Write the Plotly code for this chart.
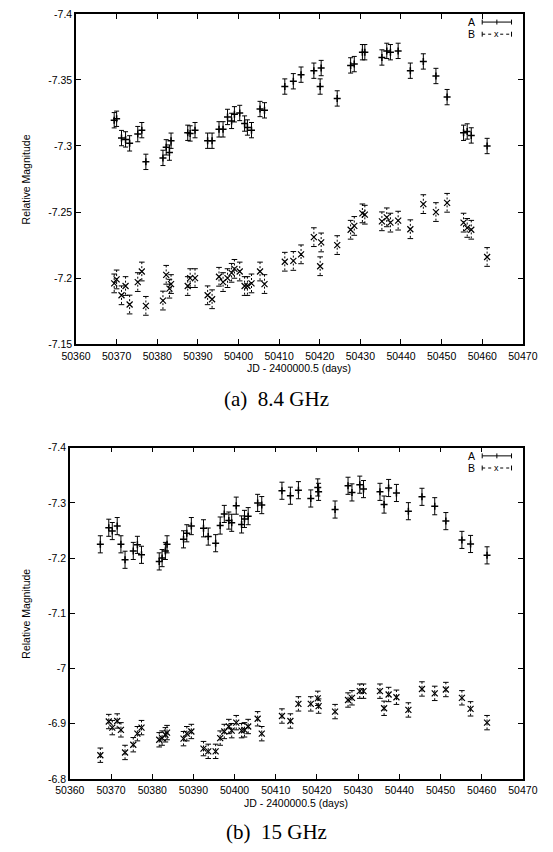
import plotly.graph_objects as go

# ---------------- data ----------------
jd_top = [50369.4, 50370.0, 50371.2, 50372.2, 50373.2, 50375.2, 50376.2, 50377.2, 50381.4, 50382.2,
          50383.0, 50383.4, 50387.5, 50388.1, 50389.3, 50392.4, 50393.5, 50395.2, 50396.2, 50397.3,
          50398.3, 50399.0, 50400.3, 50401.5, 50402.2, 50403.2, 50405.3, 50406.4, 50411.4, 50413.5,
          50415.4, 50418.55, 50420.35, 50420.1, 50424.3, 50427.6, 50428.5, 50430.5, 50431.1, 50435.3,
          50436.5, 50437.4, 50439.3, 50442.3, 50445.5, 50448.6, 50451.35, 50455.4, 50456.3, 50457.3,
          50461.2]
a_top = [-7.3195, -7.3206, -7.306, -7.305, -7.302, -7.309, -7.312, -7.288, -7.291, -7.299,
         -7.295, -7.304, -7.310, -7.3095, -7.312, -7.304, -7.304, -7.3126, -7.3126, -7.322,
         -7.319, -7.324, -7.325, -7.317, -7.314, -7.312, -7.328, -7.327, -7.345, -7.349,
         -7.354, -7.357, -7.359, -7.345, -7.336, -7.361, -7.362, -7.371, -7.371, -7.367,
         -7.372, -7.371, -7.372, -7.357, -7.364, -7.353, -7.337, -7.310, -7.311, -7.308,
         -7.300]
b_top = [-7.196, -7.199, -7.187, -7.194, -7.180, -7.197, -7.205, -7.179, -7.183, -7.2025,
         -7.192, -7.1955, -7.194, -7.200, -7.200, -7.187, -7.184, -7.201, -7.197, -7.200,
         -7.204, -7.207, -7.205, -7.194, -7.194, -7.196, -7.205, -7.1955, -7.2124, -7.213,
         -7.218, -7.231, -7.227, -7.209, -7.225, -7.2366, -7.2395, -7.249, -7.248, -7.243,
         -7.246, -7.242, -7.2435, -7.237, -7.256, -7.250, -7.257, -7.242, -7.238, -7.2366,
         -7.216]
err_a_top = 0.0058
err_b_top = 0.0071

jd_bot = [50367.4, 50369.45, 50370.3, 50371.5, 50372.4, 50373.4, 50375.4, 50376.4, 50377.4, 50381.7,
          50382.4, 50383.2, 50383.6, 50387.6, 50388.4, 50389.5, 50392.45, 50393.6, 50395.4, 50396.5,
          50397.5, 50398.6, 50399.3, 50400.4, 50401.7, 50402.4, 50403.3, 50405.6, 50406.6, 50411.5,
          50413.55, 50415.5, 50418.5, 50420.2, 50420.4, 50424.4, 50427.55, 50428.5, 50430.4, 50431.3,
          50435.3, 50436.3, 50437.4, 50439.3, 50442.2, 50445.5, 50448.6, 50451.3, 50455.2, 50457.3,
          50461.3]
a_bot = [-7.225, -7.255, -7.249, -7.258, -7.225, -7.197, -7.213, -7.224, -7.206, -7.194,
         -7.200, -7.213, -7.225, -7.234, -7.245, -7.258, -7.254, -7.239, -7.227, -7.259,
         -7.280, -7.268, -7.264, -7.295, -7.261, -7.271, -7.276, -7.300, -7.296, -7.322,
         -7.313, -7.323, -7.308, -7.328, -7.320, -7.288, -7.331, -7.319, -7.333, -7.325,
         -7.320, -7.297, -7.327, -7.318, -7.285, -7.311, -7.294, -7.267, -7.233, -7.2256,
         -7.205]
b_bot = [-6.843, -6.904, -6.893, -6.905, -6.889, -6.848, -6.862, -6.882, -6.893, -6.871,
         -6.874, -6.880, -6.884, -6.873, -6.882, -6.886, -6.855, -6.850, -6.850, -6.874,
         -6.886, -6.895, -6.8875, -6.902, -6.8875, -6.889, -6.895, -6.909, -6.882, -6.914,
         -6.905, -6.936, -6.936, -6.946, -6.932, -6.922, -6.943, -6.947, -6.959, -6.959,
         -6.959, -6.928, -6.953, -6.948, -6.925, -6.963, -6.955, -6.962, -6.947, -6.927,
         -6.902]
err_a_bot = 0.0155
err_b_bot = 0.013

x_ticks = list(range(50360, 50471, 10))
y_ticks_top = [-7.4, -7.35, -7.3, -7.25, -7.2, -7.15]
y_text_top = ["-7.4", "-7.35", "-7.3", "-7.25", "-7.2", "-7.15"]
y_ticks_bot = [-7.4, -7.3, -7.2, -7.1, -7.0, -6.9, -6.8]
y_text_bot = ["-7.4", "-7.3", "-7.2", "-7.1", "-7", "-6.9", "-6.8"]

series_names = ["A", "B"]
x_title = "JD - 2400000.5 (days)"
y_title = "Relative Magnitude"
subtitles = ["(a)  8.4 GHz", "(b)  15 GHz"]

# ---------------- figure ----------------
W, H = 553, 852
def px(x): return x / W
def py(y): return 1 - y / H

fig = go.Figure()

def add_series(jd, a, b, ea, eb, xa, ya):
    # A: solid error bars with + markers
    fig.add_trace(go.Scatter(
        x=jd, y=a, mode="markers", xaxis=xa, yaxis=ya, showlegend=False,
        marker=dict(symbol="cross-thin-open", size=5, color="black", line=dict(width=1.5, color="black")),
        error_y=dict(type="constant", value=ea, thickness=1, width=2.5, color="black")))
    # B: dashed error bars
    ex, ey = [], []
    for j, m in zip(jd, b):
        ex += [j, j, None]
        ey += [m - eb, m + eb, None]
    fig.add_trace(go.Scatter(
        x=ex, y=ey, mode="lines", xaxis=xa, yaxis=ya, showlegend=False,
        line=dict(color="black", width=1, dash="2px,2px"), hoverinfo="skip"))
    fig.add_trace(go.Scatter(
        x=jd + jd, y=[m - eb for m in b] + [m + eb for m in b], mode="markers",
        xaxis=xa, yaxis=ya, showlegend=False, hoverinfo="skip",
        marker=dict(symbol="line-ew-open", size=4, color="black", line=dict(width=1, color="black"))))
    fig.add_trace(go.Scatter(
        x=jd, y=b, mode="markers", xaxis=xa, yaxis=ya, showlegend=False,
        marker=dict(symbol="x-thin-open", size=6, color="black", line=dict(width=1.2, color="black"))))

add_series(jd_top, a_top, b_top, err_a_top, err_b_top, "x", "y")
add_series(jd_bot, a_bot, b_bot, err_a_bot, err_b_bot, "x2", "y2")

font = dict(family="Liberation Sans, Arial, sans-serif", size=10.5, color="black")
axis_common = dict(showline=True, linecolor="black", linewidth=1.5, mirror="ticks",
                   ticks="inside", ticklen=5, tickcolor="black", tickwidth=1,
                   showgrid=False, zeroline=False, tickfont=font)

top_l, bot_l, right = 64.5, 58.0, 537.0
top_t, top_b = 8.0, 343.0
bot_t, bot_b = 448.0, 784.0

fig.update_layout(
    width=W, height=H, margin=dict(l=0, r=0, t=0, b=0),
    paper_bgcolor="white", plot_bgcolor="white", showlegend=False,
    xaxis=dict(domain=[px(top_l), px(right)], anchor="y", range=[50360, 50470],
               tickvals=x_ticks, ticktext=[str(t) for t in x_ticks], ticklabelstandoff=1, **axis_common),
    yaxis=dict(domain=[py(top_b), py(top_t)], anchor="x", range=[-7.15, -7.4],
               tickvals=y_ticks_top, ticktext=y_text_top, **axis_common),
    xaxis2=dict(domain=[px(bot_l), px(right)], anchor="y2", range=[50360, 50470],
                tickvals=x_ticks, ticktext=[str(t) for t in x_ticks], ticklabelstandoff=1, **axis_common),
    yaxis2=dict(domain=[py(bot_b), py(bot_t)], anchor="x2", range=[-6.8, -7.4],
                tickvals=y_ticks_bot, ticktext=y_text_bot, **axis_common),
)

ann = []
shapes = []
for (l, t, b, sub, sub_y, xt_y) in [(top_l, top_t, top_b, subtitles[0], 399, 367),
                                     (bot_l, bot_t, bot_b, subtitles[1], 838, 808)]:
    ann.append(dict(text=x_title, x=px((l + right) / 2), y=py(xt_y), xref="paper", yref="paper",
                    showarrow=False, font=font, xanchor="center", yanchor="middle"))
    ann.append(dict(text=y_title, x=px(12), y=py((t + b) / 2), xref="paper", yref="paper",
                    showarrow=False, font=font, textangle=-90, xanchor="center", yanchor="middle"))
    ann.append(dict(text=sub, x=px(277), y=py(sub_y), xref="paper", yref="paper", showarrow=False,
                    font=dict(family="Liberation Serif, Times New Roman, serif", size=21, color="black"),
                    xanchor="center", yanchor="middle"))
    # legend
    for k, name in enumerate(series_names):
        ly = t + 8.3 + k * 12.3
        ann.append(dict(text=name, x=px(489), y=py(ly), xref="paper", yref="paper", showarrow=False,
                        font=font, xanchor="right", yanchor="middle"))
        dash = "solid" if k == 0 else "dot"
        shapes.append(dict(type="line", xref="paper", yref="paper", x0=px(494), x1=px(525),
                           y0=py(ly), y1=py(ly), line=dict(color="black", width=1, dash=dash)))
        for xx in (494, 525):
            shapes.append(dict(type="line", xref="paper", yref="paper", x0=px(xx), x1=px(xx),
                               y0=py(ly - 2.5), y1=py(ly + 2.5), line=dict(color="black", width=1)))
        if k == 0:
            shapes.append(dict(type="line", xref="paper", yref="paper", x0=px(509.5), x1=px(509.5),
                               y0=py(ly - 2.5), y1=py(ly + 2.5), line=dict(color="black", width=1)))
        else:
            ann.append(dict(text="x", x=px(509.5), y=py(ly), xref="paper", yref="paper",
                            showarrow=False, font=dict(family="Liberation Sans", size=9, color="black"),
                            xanchor="center", yanchor="middle", bgcolor="white", borderpad=0))

fig.update_layout(annotations=ann, shapes=shapes)
fig.write_html("out.html")
